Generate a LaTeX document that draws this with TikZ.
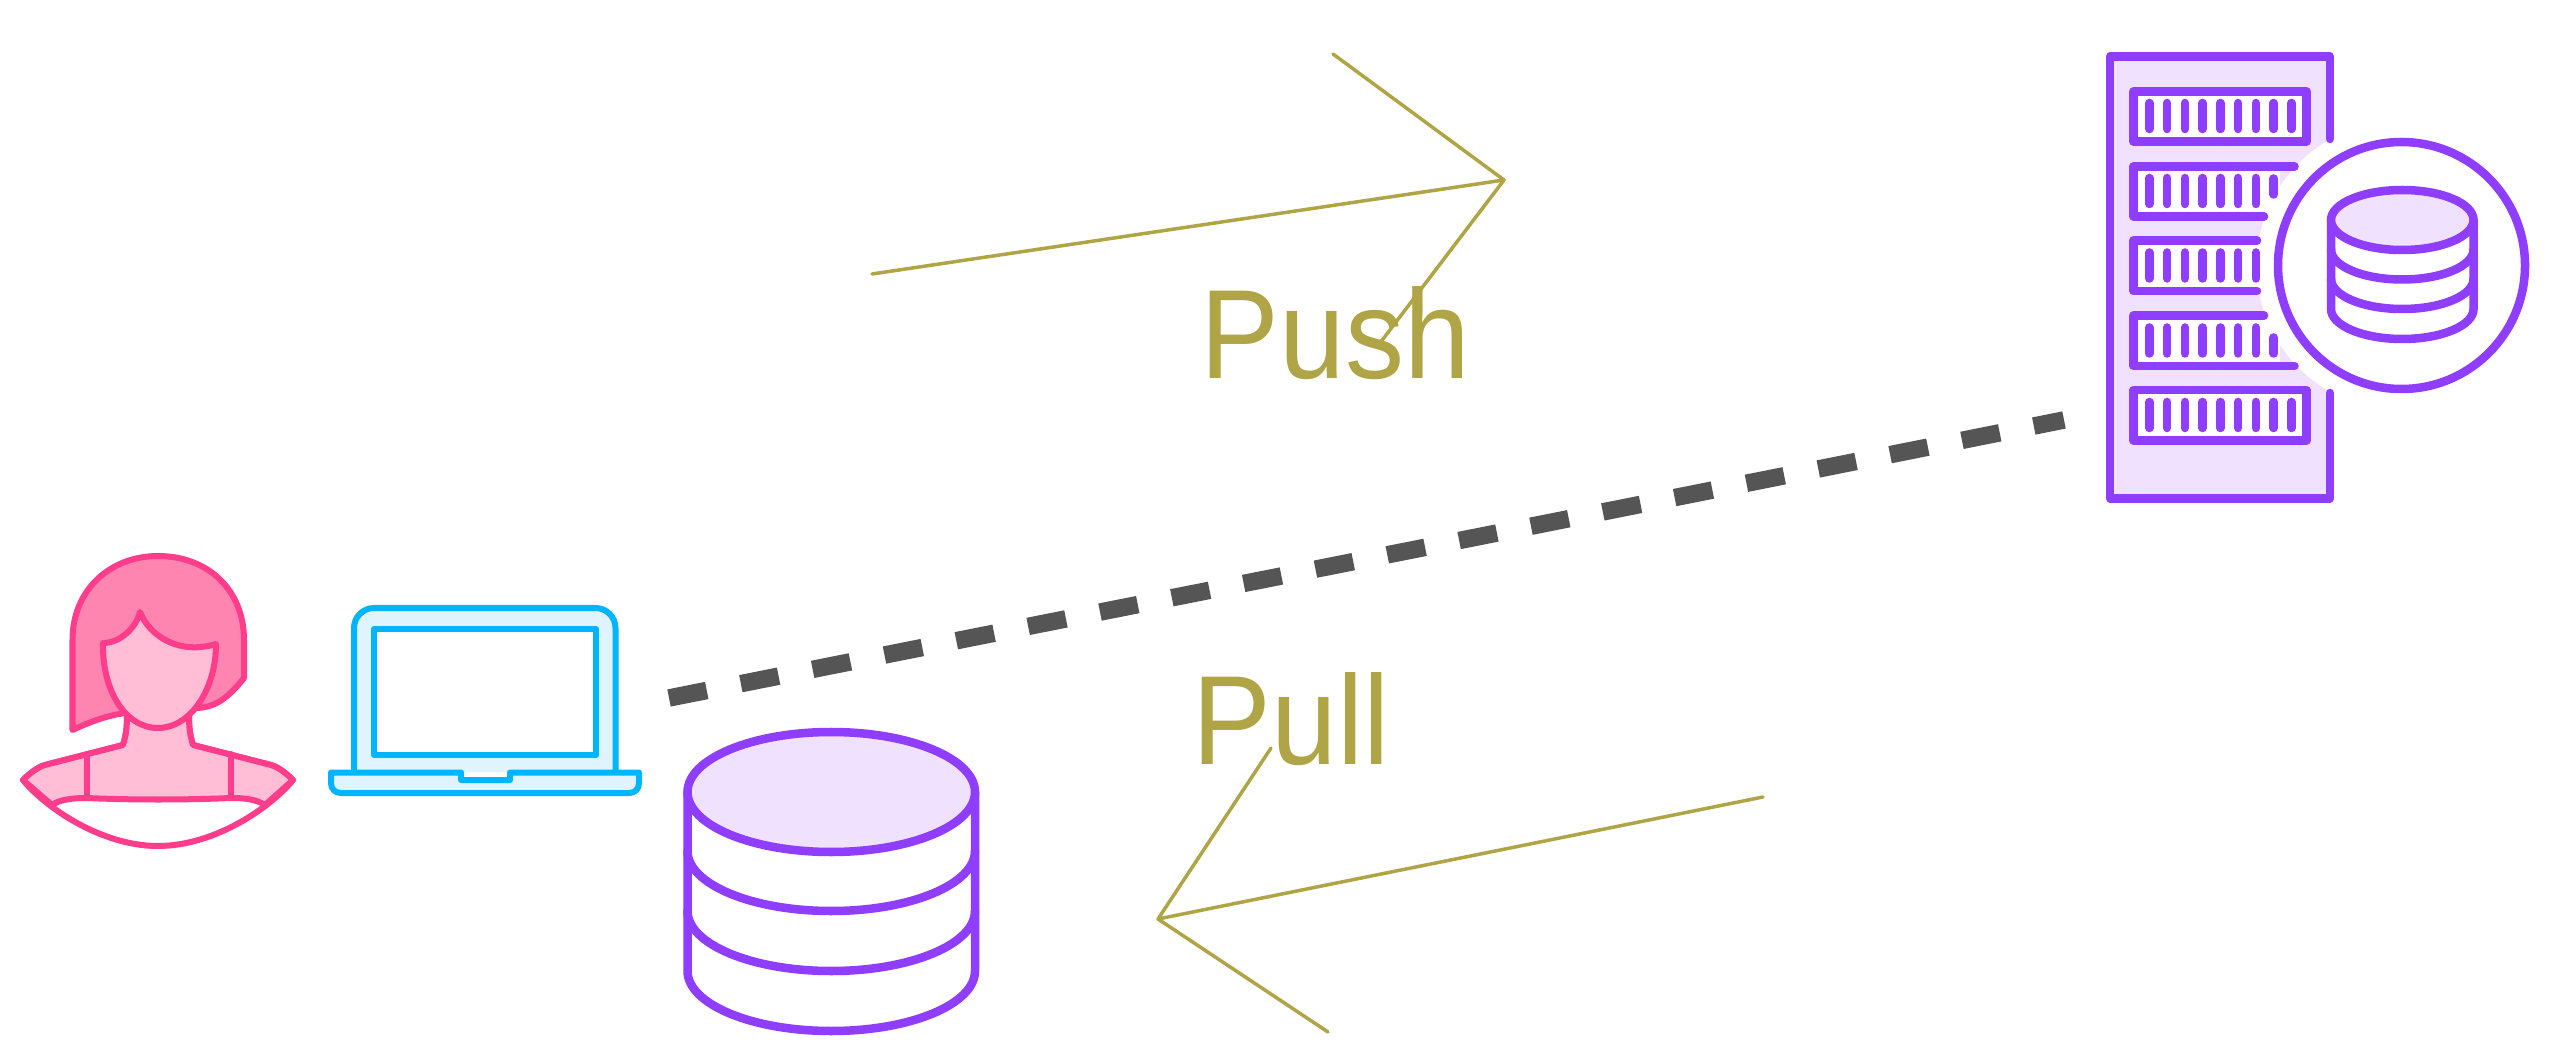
\documentclass[tikz,border=0pt]{standalone}
\usepackage{fontspec}
\newfontfamily\labelfont[FakeStretch=0.93]{Liberation Sans}
\definecolor{rosestroke}{HTML}{FF3D8B}
\definecolor{rosehair}{HTML}{FF85B1}
\definecolor{roseskin}{HTML}{FFBDD6}
\definecolor{skystroke}{HTML}{00B5FF}
\definecolor{skyfill}{HTML}{E0F4FF}
\definecolor{violetstroke}{HTML}{8F3DFF}
\definecolor{violetfill}{HTML}{F0E2FF}
\definecolor{olivearrow}{HTML}{AFA546}
\definecolor{linkgrey}{HTML}{555555}
\tikzset{
personline/.style={draw=rosestroke, line width=0.06cm, line join=round, line cap=round},
laptopline/.style={draw=skystroke, line width=0.06cm, line join=round, line cap=round},
dbline/.style={draw=violetstroke, line width=0.085cm, line join=round, line cap=round},
arrowline/.style={draw=olivearrow, line width=0.035cm, line join=round, line cap=round},
linkline/.style={draw=linkgrey, line width=0.175cm, dash pattern=on 0.385cm off 0.347cm}
}
\begin{document}
\begin{tikzpicture}[
x=0.01cm,
y=-0.01cm,
every node/.style={
inner sep=0pt,
text=olivearrow,
font=\labelfont\fontsize{36.1pt}{40pt}\selectfont
}
]
\useasboundingbox (0,0) rectangle (2566,1058);

\draw[personline, fill=white] (127,716) .. controls (127,728) and (126,735) .. (123,745) -- (45,765) .. controls (38,767) and (30,773) .. (23,780) .. controls (44,806) and (100,846) .. (158,846) .. controls (216,846) and (272,806) .. (293,780) .. controls (286,773) and (278,767) .. (271,765) -- (193,745) .. controls (190,735) and (189,728) .. (189,716) -- cycle;
\draw[personline, fill=roseskin] (127,716) .. controls (127,728) and (126,735) .. (123,745) -- (45,765) .. controls (38,767) and (30,773) .. (23,780) -- (52,805) .. controls (60,799) and (75,798) .. (87,798) .. controls (130,800) and (186,800) .. (231,798) .. controls (243,798) and (256,799) .. (265,805) -- (293,780) .. controls (286,773) and (278,767) .. (271,765) -- (193,745) .. controls (190,735) and (189,728) .. (189,716) -- cycle;
\draw[personline] (87,754) -- (87,798);
\draw[personline] (231,754) -- (231,798);
\draw[personline, fill=rosehair] (125,713) .. controls (105,716) and (90,722) .. (72.5,730) -- (72.5,640) .. controls (72.5,590) and (110,556) .. (158,556) .. controls (208,556) and (244,590) .. (244,640) -- (244,678) .. controls (228,698) and (215,708) .. (195,708) -- cycle;
\draw[personline, fill=roseskin] (103,643) .. controls (120,643) and (136,628) .. (140,612) .. controls (150,637) and (180,655) .. (216,644) .. controls (216,690) and (190,728) .. (158,728) .. controls (125,728) and (102,690) .. (103,643) -- cycle;

\draw[laptopline, fill=skyfill, rounded corners=0.2cm] (354,772) -- (354,608) -- (615.5,608) -- (615.5,772);
\draw[laptopline, fill=white] (374,629) rectangle (596,755);
\draw[laptopline, fill=skyfill] (331,772.5) -- (461,772.5) -- (461,780) -- (510,780) -- (510,772.5) -- (639,772.5) -- (639,783) .. controls (639,789) and (635,793) .. (629,793) -- (341,793) .. controls (335,793) and (331,789) .. (331,783) -- cycle;

\draw[dbline, fill=white] (687.5,792) -- (687.5,971) arc[start angle=180, end angle=0, x radius=143.75, y radius=60] -- (975,792) -- cycle;
\foreach \rowy in {851,911} {
\draw[dbline] (687.5,\rowy) arc[start angle=180, end angle=0, x radius=143.75, y radius=60];
}
\draw[dbline, fill=violetfill] (831.25,792) ellipse[x radius=143.75, y radius=60];

\fill[violetfill] (2110,56.5) rectangle (2330,498.5);
\foreach \racky in {91.5,166,240.5,315,390} {
\fill[white] (2133.5,\racky) rectangle (2280,\racky+50);
}
\fill[white] (2401.5,265.5) circle[radius=145];
\draw[dbline] (2330,139) -- (2330,56.5) -- (2110,56.5) -- (2110,498.5) -- (2330,498.5) -- (2330,393);
\draw[dbline, fill=white] (2133.5,91.5) rectangle (2306.5,141.5);
\draw[dbline, fill=white] (2133.5,390) rectangle (2306.5,440.5);
\draw[dbline] (2294.5,166.5) -- (2133.5,166.5) -- (2133.5,216.5) -- (2264,216.5);
\draw[dbline] (2257,240.5) -- (2133.5,240.5) -- (2133.5,291) -- (2257,291);
\draw[dbline] (2264,315.5) -- (2133.5,315.5) -- (2133.5,366) -- (2294.5,366);
\foreach \barx in {2149.3,2167.1,2184.8,2202.6,2220.4,2238.1,2255.9} {
\draw[dbline] (\barx,103) -- (\barx,129);
\draw[dbline] (\barx,178) -- (\barx,204);
\draw[dbline] (\barx,252.5) -- (\barx,278.5);
\draw[dbline] (\barx,327.5) -- (\barx,353.5);
\draw[dbline] (\barx,402) -- (\barx,428);
}
\foreach \barx in {2273.6,2291.4} {
\draw[dbline] (\barx,103) -- (\barx,129);
\draw[dbline] (\barx,402) -- (\barx,428);
}
\draw[dbline] (2273.6,178.5) -- (2273.6,194.5);
\draw[dbline] (2273.6,337.5) -- (2273.6,353.5);

\draw[dbline, fill=white] (2401.5,265.5) circle[radius=123.5];
\draw[dbline, fill=white] (2331,220) -- (2331,309) arc[start angle=180, end angle=0, x radius=71.25, y radius=30] -- (2473.5,220) -- cycle;
\foreach \rowy in {249.5,279} {
\draw[dbline] (2331,\rowy) arc[start angle=180, end angle=0, x radius=71.25, y radius=30];
}
\draw[dbline, fill=violetfill] (2402.25,220) ellipse[x radius=71.25, y radius=30];

\coordinate (laptoplink) at (669,698);
\coordinate (serverlink) at (2064,420);
\draw[linkline] (laptoplink) -- (serverlink);

\node[anchor=base west] (pushlabel) at (1200,379) {Push};
\node[anchor=base west] (pulllabel) at (1192,764) {Pull};

\coordinate (pushtail) at (872,274);
\coordinate (pushtip) at (1504,180);
\coordinate (pushbarbup) at (1333,54);
\coordinate (pushbarbdown) at (1380,343);
\draw[arrowline] (pushtail) -- (pushtip);
\draw[arrowline] (pushbarbup) -- (pushtip) -- (pushbarbdown);

\coordinate (pulltail) at (1763,797);
\coordinate (pulltip) at (1158,919);
\coordinate (pullbarbup) at (1271,748);
\coordinate (pullbarbdown) at (1328,1032);
\draw[arrowline] (pulltail) -- (pulltip);
\draw[arrowline] (pullbarbup) -- (pulltip) -- (pullbarbdown);

\end{tikzpicture}
\end{document}
